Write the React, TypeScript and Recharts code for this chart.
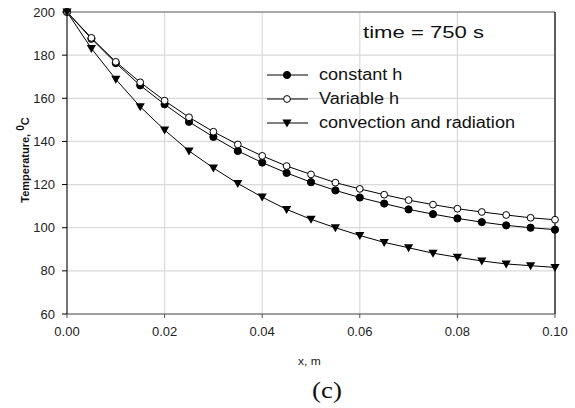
import {
  CartesianGrid,
  Line,
  LineChart,
  ReferenceLine,
  XAxis,
  YAxis,
} from "recharts"

const positions = [
  0, 0.005, 0.01, 0.015, 0.02, 0.025, 0.03, 0.035, 0.04, 0.045, 0.05, 0.055,
  0.06, 0.065, 0.07, 0.075, 0.08, 0.085, 0.09, 0.095, 0.1,
]
const constantH = [
  200, 187.6, 176.3, 166.0, 157.2, 149.1, 142.1, 135.6, 130.2, 125.4, 121.1,
  117.3, 114.0, 111.2, 108.5, 106.3, 104.3, 102.6, 101.1, 100.0, 99.1,
]
const variableH = [
  200, 188.0, 176.9, 167.4, 158.9, 151.2, 144.5, 138.6, 133.3, 128.6, 124.7,
  120.9, 118.0, 115.3, 112.8, 110.7, 108.8, 107.3, 105.9, 104.6, 103.7,
]
const convRad = [
  200, 183.1, 168.8, 156.1, 145.3, 135.6, 127.7, 120.5, 114.2, 108.5, 103.9,
  100.0, 96.4, 93.2, 90.7, 88.2, 86.3, 84.6, 83.2, 82.4, 81.6,
]
const xTicks = [0, 0.02, 0.04, 0.06, 0.08, 0.1]
const yTicks = [60, 80, 100, 120, 140, 160, 180, 200]
const seriesNames = ["constant h", "Variable h", "convection and radiation"]

const data = positions.map((x, i) => ({
  x,
  constantH: constantH[i],
  variableH: variableH[i],
  convRad: convRad[i],
}))

const font = "'Liberation Sans', Arial, sans-serif"

function FilledDot(props: any) {
  const { cx, cy } = props
  if (cx == null || cy == null) return null
  return <circle cx={cx} cy={cy} r={3.6} fill="#000" stroke="#000" />
}

function OpenDot(props: any) {
  const { cx, cy } = props
  if (cx == null || cy == null) return null
  return <circle cx={cx} cy={cy} r={3.4} fill="#fff" stroke="#000" strokeWidth={1} />
}

function TriDot(props: any) {
  const { cx, cy } = props
  if (cx == null || cy == null) return null
  return (
    <path
      d={`M${cx - 4.6},${cy - 3.5} L${cx + 4.6},${cy - 3.5} L${cx},${cy + 4.5} Z`}
      fill="#000"
    />
  )
}

const markers = [FilledDot, OpenDot, TriDot]

function YLabel() {
  return (
    <text
      transform="translate(29,160) rotate(-90)"
      textAnchor="middle"
      fontFamily={font}
      fontSize={11}
      fontWeight="bold"
      fill="#111"
    >
      Temperature,{" "}
      <tspan dy={-5} fontSize={10}>
        0
      </tspan>
      <tspan dy={5}>C</tspan>
    </text>
  )
}

// reference text is a bit wider than the font alone gives
function Stretch({ k, children }: { k: number; children: any }) {
  return (
    <span
      style={{
        display: "inline-block",
        transform: `scaleX(${k})`,
        transformOrigin: "left center",
        whiteSpace: "nowrap",
      }}
    >
      {children}
    </span>
  )
}

export default function App() {
  return (
    <div
      style={{
        position: "absolute",
        left: 0,
        top: 0,
        width: 575,
        height: 408,
        background: "#fff",
      }}
    >
      <LineChart
        width={575}
        height={408}
        data={data}
        margin={{ top: 12, right: 20, left: 0, bottom: 64 }}
      >
        <CartesianGrid stroke="#d9d9d9" strokeWidth={1.2} />
        <XAxis
          dataKey="x"
          type="number"
          domain={[0, 0.1]}
          ticks={xTicks}
          tickFormatter={(v: number) => v.toFixed(2)}
          height={30}
          stroke="#555"
          tickSize={4}
          tickMargin={9}
          tick={{ fontSize: 13, fontFamily: font, fill: "#222" }}
        />
        <YAxis
          type="number"
          domain={[60, 200]}
          ticks={yTicks}
          width={67}
          stroke="#000"
          tickSize={5}
          tickMargin={7}
          tick={{ fontSize: 13, fontFamily: font, fill: "#222" }}
          label={<YLabel />}
        />
        <ReferenceLine y={200} stroke="#666" strokeWidth={1.2} />
        <ReferenceLine x={0.1} stroke="#000" strokeWidth={1.2} />
        <Line
          dataKey="constantH"
          name={seriesNames[0]}
          stroke="#000"
          strokeWidth={1}
          dot={<FilledDot />}
          isAnimationActive={false}
        />
        <Line
          dataKey="variableH"
          name={seriesNames[1]}
          stroke="#000"
          strokeWidth={1}
          dot={<OpenDot />}
          isAnimationActive={false}
        />
        <Line
          dataKey="convRad"
          name={seriesNames[2]}
          stroke="#000"
          strokeWidth={1}
          dot={<TriDot />}
          isAnimationActive={false}
        />
      </LineChart>

      <div
        style={{
          position: "absolute",
          left: 363,
          top: 23,
          fontFamily: font,
          fontSize: 17,
          color: "#111",
        }}
      >
        <Stretch k={1.3}>time = 750 s</Stretch>
      </div>

      <div style={{ position: "absolute", left: 266, top: 63 }}>
        {seriesNames.map((name, i) => {
          const Marker = markers[i]
          return (
            <div
              key={name}
              style={{ display: "flex", alignItems: "center", height: 24.2 }}
            >
              <svg width={44} height={12}>
                <line x1={1} x2={42} y1={6} y2={6} stroke="#000" strokeWidth={1} />
                <Marker cx={21} cy={6} />
              </svg>
              <span
                style={{
                  fontFamily: font,
                  fontSize: 16,
                  color: "#111",
                  marginLeft: 9,
                }}
              >
                <Stretch k={1.13}>{name}</Stretch>
              </span>
            </div>
          )
        })}
      </div>

      <div
        style={{
          position: "absolute",
          left: 298,
          top: 356,
          fontFamily: font,
          fontSize: 10,
          color: "#222",
        }}
      >
        <Stretch k={1.2}>x, m</Stretch>
      </div>

      <div
        style={{
          position: "absolute",
          left: 312,
          top: 377,
          fontFamily: "'Liberation Serif', 'Times New Roman', serif",
          fontSize: 24,
          color: "#111",
        }}
      >
        <Stretch k={1.12}>(c)</Stretch>
      </div>
    </div>
  )
}
